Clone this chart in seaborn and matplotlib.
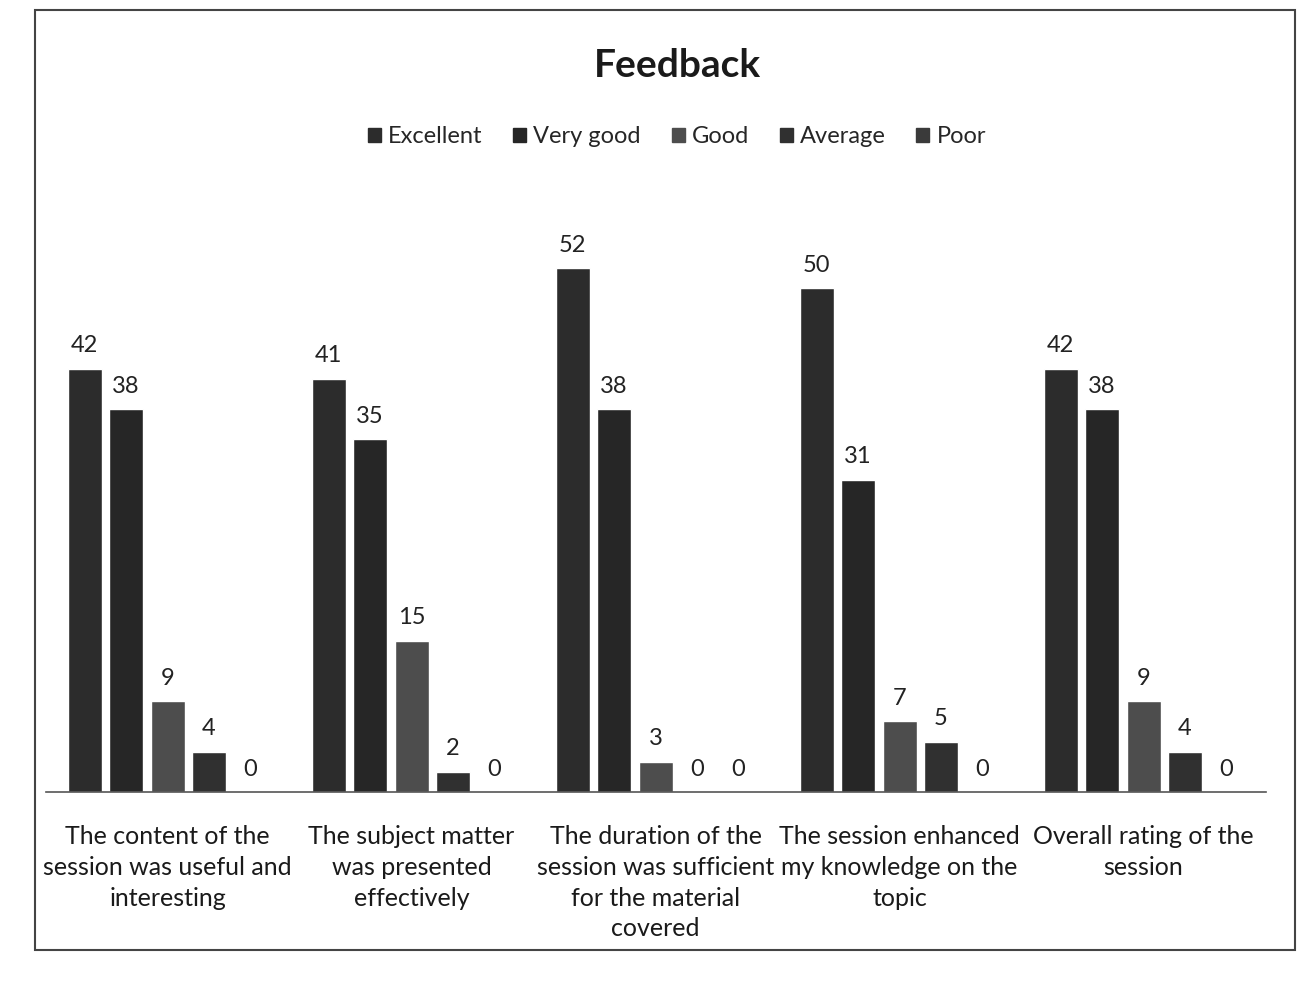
import matplotlib
matplotlib.use("Agg")
from matplotlib import pyplot as plt
import matplotlib.patches as mpatches
import seaborn as sns
import pandas as pd

# chart values
questions = [
    "The content of the\nsession was useful and\ninteresting",
    "The subject matter\nwas presented\neffectively",
    "The duration of the\nsession was sufficient\nfor the material\ncovered",
    "The session enhanced\nmy knowledge on the\ntopic",
    "Overall rating of the\nsession",
]
ratings = ["Excellent", "Very good", "Good", "Average", "Poor"]
excellent = [42, 41, 52, 50, 42]
very_good = [38, 35, 38, 31, 38]
good = [9, 15, 3, 7, 9]
average = [4, 2, 0, 5, 4]
poor = [0, 0, 0, 0, 0]

bar_colors = ["#2c2c2c", "#262626", "#4d4d4d", "#303030", "#3a3a3a"]

rows = []
for rating, vals in zip(ratings, [excellent, very_good, good, average, poor]):
    for q, v in zip(questions, vals):
        rows.append({"question": q, "rating": rating, "count": v})
df = pd.DataFrame(rows)

sns.set_style("white")
plt.rcParams['font.family'] = ['Lato', 'DejaVu Sans']

fig = plt.figure(figsize=(13.02, 9.9), dpi=100)
ax = fig.add_axes([0.035, 0.2, 0.937, 0.57])

sns.barplot(data=df, x="question", y="count", hue="rating", order=questions,
            hue_order=ratings, palette=bar_colors, width=0.85, gap=0.18,
            ax=ax, legend=False)

for container in ax.containers:
    ax.bar_label(container, padding=9, fontsize=17, color="#222222")

ax.set_ylim(0, 56)
ax.set_xlabel("")
ax.set_ylabel("")
ax.set_yticks([])
ax.tick_params(axis="x", length=0, pad=24, labelsize=18, labelcolor="#1a1a1a")
for lbl in ax.get_xticklabels():
    lbl.set_linespacing(1.4)
for side in ["top", "left", "right"]:
    ax.spines[side].set_visible(False)
ax.spines["bottom"].set_color("#555555")
ax.spines["bottom"].set_linewidth(1.2)

fig.text(0.52, 0.934, "Feedback", ha="center", va="center",
         fontsize=28, fontweight="bold", color="#1a1a1a")

patches = [mpatches.Patch(color=c, label=r) for c, r in zip(bar_colors, ratings)]
fig.legend(handles=patches, loc="center", bbox_to_anchor=(0.52, 0.862), ncol=5,
           frameon=False, fontsize=17, handlelength=0.55, handleheight=0.55,
           handletextpad=0.3, columnspacing=1.3)

# outer border of the chart area
fig.patches.append(mpatches.Rectangle((0.027, 0.04), 0.968, 0.95, transform=fig.transFigure,
                                      fill=False, edgecolor="#444444", linewidth=1.5))

fig.savefig("out.png", dpi=100)
